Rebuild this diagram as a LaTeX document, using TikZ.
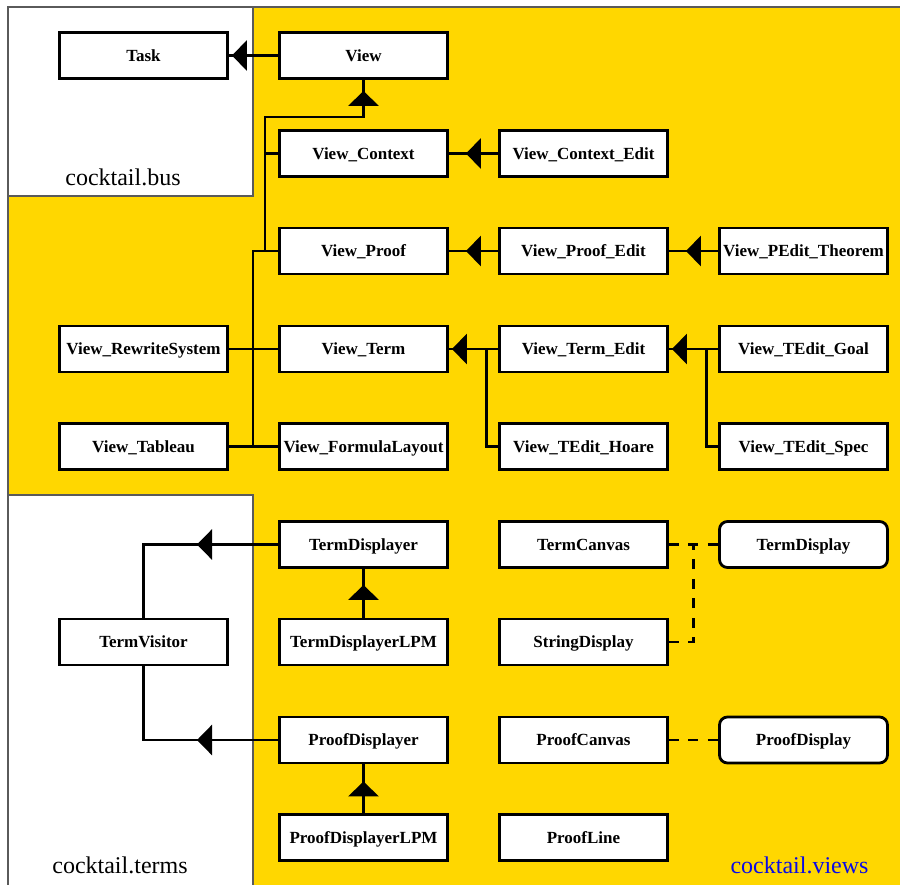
\documentclass[tikz,border=0pt]{standalone}
\usepackage{fontspec}
\setmainfont{Liberation Serif}
\usetikzlibrary{arrows.meta,calc}
\definecolor{pkgyellow}{RGB}{255,215,0}
\definecolor{pkgedge}{RGB}{90,90,90}
\definecolor{lblue}{RGB}{10,10,230}
\begin{document}
\begin{tikzpicture}[x=1pt,y=-1pt,
  cls/.style={draw, fill=white, line width=2.8pt, minimum width=168pt, minimum height=46pt,
    inner sep=0pt, font=\bfseries\fontsize{17}{20}\selectfont, text height=11pt, text depth=0pt},
  iface/.style={cls, rounded corners=8pt},
  conn/.style={line width=2.8pt},
  arr/.style={line width=2.8pt, -{Triangle[length=15pt,width=30pt]}},
  dsh/.style={line width=2.8pt, dash pattern=on 10pt off 9.5pt},
  pkglabel/.style={anchor=base, font=\fontsize{24}{28}\selectfont}]
\useasboundingbox (0,0) rectangle (900,884);
% packages
\filldraw[fill=pkgyellow, draw=pkgedge, line width=1.5pt] (8,7) rectangle (920,900);
\filldraw[fill=white, draw=pkgedge, line width=1.2pt] (8,7) rectangle (253,196);
\filldraw[fill=white, draw=pkgedge, line width=1.2pt] (8,495) rectangle (253,900);
\node[pkglabel] (busl) at (123,185) {cocktail.bus};
\node[pkglabel] (termsl) at (120,873) {cocktail.terms};
\node[pkglabel, text=lblue] (viewsl) at (799.5,873) {cocktail.views};
% classes
\node[cls] (task) at (143.5,55.5) {Task};
\node[cls] (view) at (363.5,55.5) {View};
\node[cls] (vc)   at (363.5,153.5) {View\_Context};
\node[cls] (vce)  at (583.5,153.5) {View\_Context\_Edit};
\node[cls] (vp)   at (363.5,251) {View\_Proof};
\node[cls] (vpe)  at (583.5,251) {View\_Proof\_Edit};
\node[cls] (vpt)  at (803.5,251) {View\_PEdit\_Theorem};
\node[cls] (vrs)  at (143.5,349) {View\_RewriteSystem};
\node[cls] (vt)   at (363.5,349) {View\_Term};
\node[cls] (vte)  at (583.5,349) {View\_Term\_Edit};
\node[cls] (vtg)  at (803.5,349) {View\_TEdit\_Goal};
\node[cls] (vtab) at (143.5,446.5) {View\_Tableau};
\node[cls] (vfl)  at (363.5,446.5) {View\_FormulaLayout};
\node[cls] (vth)  at (583.5,446.5) {View\_TEdit\_Hoare};
\node[cls] (vts)  at (803.5,446.5) {View\_TEdit\_Spec};
\node[cls] (tdp)  at (363.5,544.5) {TermDisplayer};
\node[cls] (tcv)  at (583.5,544.5) {TermCanvas};
\node[iface] (tdy) at (803.5,544.5) {TermDisplay};
\node[cls] (tv)   at (143.5,642) {TermVisitor};
\node[cls] (tdl)  at (363.5,642) {TermDisplayerLPM};
\node[cls] (sd)   at (583.5,642) {StringDisplay};
\node[cls] (pdp)  at (363.5,740) {ProofDisplayer};
\node[cls] (pcv)  at (583.5,740) {ProofCanvas};
\node[iface] (pdy) at (803.5,740) {ProofDisplay};
\node[cls] (pdl)  at (363.5,837.5) {ProofDisplayerLPM};
\node[cls] (pl)   at (583.5,837.5) {ProofLine};
% View -> Task
\draw[conn] (view.west) -- (task.east);
\draw[arr, shorten >=3pt] (view.west) -- (task.east);
% inheritance tree of View
\coordinate (vj) at (363.5,117);
\coordinate (tA) at (265,117);
\coordinate (tB) at (265,251);
\coordinate (tC) at (253,251);
\coordinate (tD) at (253,446.5);
\draw[conn] (view.south) -- (vj) -- (tA) -- (tB);
\draw[arr, shorten >=11pt] (vj) -- (view.south);
\draw[conn] (vc.west) -- (vc.west -| tA);
\draw[conn] (vp.west) -- (tC) -- (tD);
\draw[conn] (vrs.east) -- (vt.west);
\draw[conn] (vtab.east) -- (vfl.west);
% edits
\draw[conn] (vce.west) -- (vc.east);
\draw[arr, shorten >=17pt] (vce.west) -- (vc.east);
\draw[conn] (vpe.west) -- (vp.east);
\draw[arr, shorten >=17pt] (vpe.west) -- (vp.east);
\draw[conn] (vpt.west) -- (vpe.east);
\draw[arr, shorten >=17pt] (vpt.west) -- (vpe.east);
\draw[conn] (vte.west) -- (vt.east);
\draw[arr, shorten >=3pt] (vte.west) -- (vt.east);
\draw[conn] (vte.west) ++(-12,0) |- (vth.west);
\draw[conn] (vtg.west) -- (vte.east);
\draw[arr, shorten >=3pt] (vtg.west) -- (vte.east);
\draw[conn] (vtg.west) ++(-12,0) |- (vts.west);
% displayers
\coordinate (tdtip) at (197,544.5);
\coordinate (pdtip) at (197,740);
\draw[conn] (tdp.west) -| (tv.north);
\draw[arr] (tdp.west) -- (tdtip);
\draw[conn] (pdp.west) -| (tv.south);
\draw[arr] (pdp.west) -- (pdtip);
\draw[conn] (tdl.north) -- (tdp.south);
\draw[arr, shorten >=16pt] (tdl.north) -- (tdp.south);
\draw[conn] (pdl.north) -- (pdp.south);
\draw[arr, shorten >=17pt] (pdl.north) -- (pdp.south);
% dashed realisations
\coordinate (dj) at ($(tcv.east)!0.5!(tdy.west)$);
\draw[dsh] (tcv.east) -- (tdy.west);
\draw[dsh] (sd.east) -| (dj);
\draw[dsh] (pcv.east) -- (pdy.west);
\end{tikzpicture}
\end{document}
